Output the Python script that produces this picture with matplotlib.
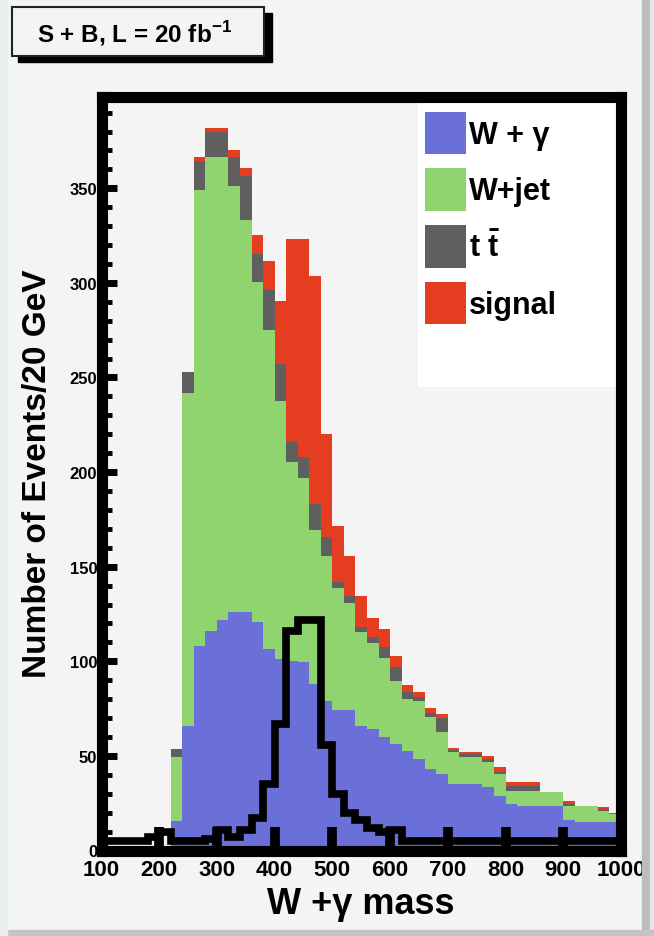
import numpy as np
import matplotlib
matplotlib.use("Agg")
import matplotlib.pyplot as plt
from matplotlib.patches import Rectangle
from matplotlib.ticker import MultipleLocator

plt.rcParams['font.family'] = ['Liberation Sans', 'DejaVu Sans']
plt.rcParams['font.weight'] = 'bold'
plt.rcParams['mathtext.fontset'] = 'custom'
plt.rcParams['mathtext.rm'] = 'Liberation Sans:bold'
plt.rcParams['mathtext.bf'] = 'Liberation Sans:bold'

# bin edges, 20 GeV wide
edges = np.arange(100, 1001, 20)

# events per bin for each component
w_gamma = [0, 0, 0, 0, 0, 0, 15.5, 66, 108, 116, 122, 126, 126, 120.6, 106.5,
           101, 100, 99.5, 88, 79, 74, 74, 66, 64.2, 59.8, 56.3, 52.7, 48.4,
           43.1, 40.5, 35, 35, 35, 33.4, 29, 24.6, 23.4, 23.4, 23.4, 23.4,
           16.3, 14.9, 14.9, 14.9, 14.9]
w_jet = [0, 0, 0, 0, 0, 0, 33.8, 176, 241, 250.7, 244.7, 225, 207.4, 179.7,
         168.5, 136.8, 105.2, 97.2, 81.6, 76.8, 64.6, 56.8, 49.3, 45.3, 41.8,
         33.4, 27.3, 30.6, 27.3, 22, 16.9, 14.3, 14.3, 13.2, 11.4, 7, 8.2, 8.2,
         7.4, 7.4, 7.1, 8.5, 8.5, 6.1, 4.4]
ttbar = [0, 0, 0, 0, 0, 0, 4.4, 11, 15.6, 13.3, 13.3, 15.4, 23.3, 15.2, 21,
         19.4, 10.8, 11.1, 13.5, 9.7, 3.4, 3.5, 3, 3.5, 5.8, 7.3, 3.6, 2, 2.1,
         7.4, 1.1, 1.7, 1.7, 1.8, 1.2, 2.6, 2.6, 2.6, 0, 0, 1.2, 0, 0, 1, 0.2]
signal = [0, 0, 0, 0, 0, 0, 0, 0, 1.8, 1.9, 1.9, 4, 3.9, 10, 15.7, 33.4, 107.2,
          115.4, 120.7, 54.4, 29.3, 21.5, 16, 9.7, 9.6, 6, 3.9, 2.6, 2.8, 2.1,
          1.2, 1.2, 1.2, 1.7, 2.7, 1.8, 1.8, 1.8, 0, 0, 1.7, 0, 0, 0.8, 0.5]
# signal alone, drawn as the black outline
signal_line = [5, 5, 5, 5, 7, 10, 5, 5, 5, 6, 11, 7, 11, 17, 35, 67, 116, 122,
               122, 56, 30, 20, 16, 12, 10, 11, 5, 5, 5, 5, 5, 5, 5, 5, 5, 5, 5,
               5, 5, 5, 5, 5, 5, 5, 5]

labels = ['W + γ', 'W+jet', r't $\bar{\mathrm{t}}$', 'signal']
colors = ['#6b70d9', '#8fd46f', '#5f5f5f', '#e43d1f']

W, H = 654, 937
fig = plt.figure(figsize=(W / 100, H / 100), dpi=100, facecolor='#f4f4f4')


def fx(x):
    return x / W


def fy(y):
    return 1 - y / H


# canvas border strips
fig.patches.append(Rectangle((fx(642), 0), fx(8), 1, transform=fig.transFigure,
                             color='#bcbcbc', zorder=0))
fig.patches.append(Rectangle((fx(650), 0), fx(4), 1, transform=fig.transFigure,
                             color='#e6e6e6', zorder=0))
fig.patches.append(Rectangle((0, 0), 1, fy(931), transform=fig.transFigure,
                             color='#c4c4c4', zorder=0))
fig.patches.append(Rectangle((0, 0), fx(7), 1, transform=fig.transFigure,
                             color='#e8edf0', zorder=0))

ax = fig.add_axes([fx(101.5), fy(851.5), fx(621) - fx(101.5), fy(97.5) - fy(851.5)])
ax.set_facecolor('#f4f4f4')

# stacked histogram: cumulative tops drawn from the top layer down
layers = [w_gamma, w_jet, ttbar, signal]
tops = np.cumsum(np.array(layers), axis=0)
handles = []
for i in range(3, -1, -1):
    h = ax.stairs(tops[i], edges, baseline=0, fill=True, color=colors[i],
                  label=labels[i], linewidth=0)
    handles.insert(0, h)

ax.stairs(signal_line, edges, baseline=0, color='black', linewidth=5.5, zorder=4)

ax.set_xlim(100, 1000)
ax.set_ylim(0, 398.5)

for s in ax.spines.values():
    s.set_linewidth(8)
    s.set_zorder(6)

ax.set_xticks(range(100, 1001, 100))
ax.set_yticks(range(0, 351, 50))
ax.yaxis.set_minor_locator(MultipleLocator(10))
ax.tick_params(axis='x', which='major', direction='in', length=17, width=7,
               labelsize=16, pad=6)
ax.tick_params(axis='y', which='major', direction='in', length=11, width=5,
               labelsize=12, pad=3)
ax.tick_params(axis='y', which='minor', direction='in', length=7, width=3.5)

# legend box
ax.add_patch(Rectangle((0.610, 0.6147), 0.39, 0.3853, transform=ax.transAxes,
                       facecolor='white', edgecolor='none', zorder=5))
leg = ax.legend(handles=handles, loc='upper left', bbox_to_anchor=(0.622, 0.98),
                frameon=False, fontsize=22, borderpad=0, borderaxespad=0,
                handlelength=1.37, handleheight=1.77, labelspacing=0.46,
                handletextpad=0.07)
leg.set_zorder(7)

# axis titles
fig.text(fx(38), fy(474), 'Number of Events/20 GeV', rotation=90, ha='center',
         va='center', fontsize=24, weight='bold')
fig.text(fx(361), fy(905), 'W +γ mass', ha='center', va='center', fontsize=26,
         weight='bold')

# title pave with shadow
fig.patches.append(Rectangle((fx(18), fy(63)), fx(254), fy(14) - fy(63),
                             transform=fig.transFigure, color='black', zorder=1))
fig.patches.append(Rectangle((fx(12), fy(57)), fx(252), fy(8) - fy(57),
                             transform=fig.transFigure, facecolor='#f4f4f4',
                             edgecolor='#222222', linewidth=1.5, zorder=2))
fig.text(fx(135), fy(34), 'S + B, L = 20 fb$^{-1}$', ha='center', va='center',
         fontsize=17.5, weight='bold', zorder=3)

fig.savefig('out.png', dpi=100, facecolor=fig.get_facecolor())
